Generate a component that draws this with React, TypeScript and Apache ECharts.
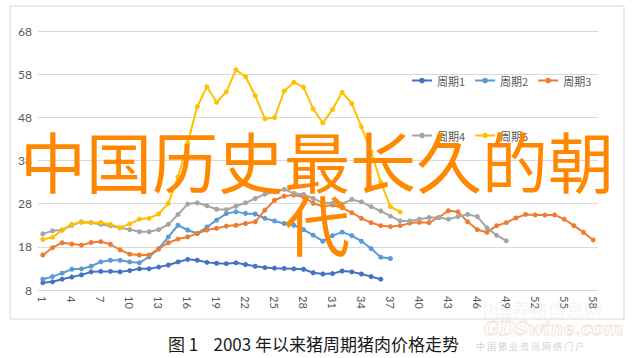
import React, { useEffect, useRef } from 'react';
import * as echarts from 'echarts';

const categories: string[] = Array.from({ length: 58 }, (_, i) => String(i + 1));
const yTicks = [8, 18, 28, 38, 48, 58, 68];
const seriesNames = ['周期1', '周期2', '周期3', '周期4', '周期5'];
const seriesColors = ['#4472C4', '#5B9BD5', '#ED7D31', '#A5A5A5', '#FFC000'];

const cycle1 = [9.7, 9.9, 10.5, 11.0, 11.5, 12.2, 12.3, 12.3, 12.2, 12.5, 12.9, 12.9, 13.3, 13.8, 14.5, 15.1, 14.9, 14.4, 14.2, 14.1, 14.3, 13.9, 13.5, 13.2, 13.05, 13.0, 12.9, 12.8, 12.0, 11.7, 11.8, 12.4, 12.2, 11.7, 11.1, 10.5];
const cycle2 = [10.5, 11.1, 11.9, 12.8, 12.9, 13.5, 14.5, 14.9, 14.9, 14.5, 14.3, 15.7, 17.5, 20.3, 23.0, 21.9, 21.1, 22.6, 24.2, 25.7, 26.1, 25.75, 25.6, 24.6, 24.0, 23.4, 23.0, 22.0, 20.7, 19.3, 20.6, 21.4, 20.6, 19.3, 17.6, 15.6, 15.3];
const cycle3 = [16.1, 17.8, 18.95, 18.65, 18.4, 19.0, 19.2, 18.6, 17.3, 16.3, 16.1, 16.1, 17.6, 18.95, 19.8, 20.3, 21.1, 21.9, 22.3, 22.8, 23.0, 23.4, 23.8, 26.5, 28.8, 29.75, 30.0, 29.6, 28.1, 27.4, 27.7, 27.05, 25.9, 24.6, 23.6, 22.9, 22.7, 22.9, 23.5, 23.7, 23.6, 24.8, 26.35, 26.1, 23.8, 22.0, 21.35, 22.9, 23.6, 24.7, 25.5, 25.4, 25.35, 25.4, 24.4, 22.9, 21.35, 19.6];
const cycle4 = [21.0, 21.7, 21.9, 23.0, 23.8, 23.6, 23.2, 22.9, 22.4, 22.0, 21.5, 21.5, 22.0, 23.2, 25.5, 27.9, 28.2, 27.5, 26.7, 26.6, 27.4, 28.2, 29.2, 30.2, 30.75, 31.3, 30.4, 30.15, 29.2, 28.2, 28.1, 27.9, 29.0, 28.4, 27.3, 26.3, 25.1, 24.0, 24.0, 24.4, 24.8, 24.8, 24.4, 25.0, 25.5, 25.0, 22.4, 20.7, 19.4];
const cycle5 = [19.7, 20.2, 21.9, 23.2, 23.65, 23.6, 23.65, 23.2, 22.5, 23.3, 24.4, 24.6, 25.6, 28.1, 34.2, 42.0, 50.5, 55.1, 51.5, 53.9, 59.0, 57.4, 53.0, 47.65, 47.95, 54.1, 56.1, 55.0, 49.95, 46.7, 49.8, 53.8, 51.2, 45.8, 40.0, 33.0, 27.3, 26.1];
const seriesData = [cycle1, cycle2, cycle3, cycle4, cycle5];

const overlayTitle = '中国历史最长久的朝代';
const caption = '图 1    2003 年以来猪周期猪肉价格走势';

export default function App() {
  const ref = useRef<HTMLDivElement>(null);
  useEffect(() => {
    if (!ref.current) return;
    const chart = echarts.init(ref.current, null, { renderer: 'svg' });
    const legendCommon = {
      itemWidth: 20,
      itemHeight: 7,
      itemGap: 9,
      textStyle: { fontSize: 11, color: '#595959', fontFamily: '"Noto Sans CJK SC", Lato, sans-serif' },
    };
    chart.setOption({
      animation: false,
      textStyle: { fontFamily: 'Lato, "Noto Sans CJK SC", sans-serif' },
      grid: { left: 38, right: 36, top: 31, bottom: 68, containLabel: false },
      legend: [
        { ...legendCommon, data: seriesNames.slice(0, 3), left: 406, top: 70 },
        { ...legendCommon, data: seriesNames.slice(3), left: 406, top: 125 },
      ],
      xAxis: {
        type: 'category',
        data: categories,
        boundaryGap: true,
        axisLine: { lineStyle: { color: '#D9D9D9' } },
        axisTick: { show: false },
        axisLabel: { interval: 2, rotate: -90, fontSize: 11, color: '#595959', margin: 6 },
      },
      yAxis: {
        type: 'value',
        min: 8,
        max: 68,
        axisLine: { show: false },
        axisTick: { show: false, customValues: yTicks },
        axisLabel: { customValues: yTicks, fontSize: 12, color: '#595959', margin: 6 },
        splitLine: { lineStyle: { color: '#D9D9D9', width: 1 } },
      },
      series: seriesNames.map((name, i) => ({
        name,
        type: 'line',
        data: seriesData[i],
        symbol: 'circle',
        symbolSize: 5,
        lineStyle: { width: 2, color: seriesColors[i] },
        itemStyle: { color: seriesColors[i] },
      })),
      graphic: [
        {
          type: 'rect',
          shape: { x: 10, y: 6, width: 614, height: 313 },
          style: { fill: 'none', stroke: '#D9D9D9', lineWidth: 1 },
          silent: true,
          z: 0,
        },
        {
          type: 'text',
          x: 317,
          y: 127,
          z: 100,
          style: {
            text: overlayTitle,
            width: 600,
            overflow: 'break',
            align: 'center',
            verticalAlign: 'top',
            fontSize: 66,
            lineHeight: 63,
            fontFamily: '"Noto Sans CJK SC", sans-serif',
            fill: '#FF8800',
          },
        },
        {
          type: 'text',
          x: 168,
          y: 343,
          z: 100,
          style: {
            text: caption,
            fontSize: 17,
            verticalAlign: 'middle',
            fontFamily: '"Noto Sans CJK SC", sans-serif',
            fill: '#1a1a1a',
          },
        },
        {
          type: 'text',
          x: 476,
          y: 309,
          z: 50,
          style: {
            text: '中国养猪信息网',
            fontSize: 18,
            verticalAlign: 'middle',
            fontFamily: '"Noto Sans CJK SC", sans-serif',
            fill: 'rgba(225,215,205,0.3)',
          },
        },
        {
          type: 'text',
          x: 484,
          y: 328,
          z: 50,
          style: {
            text: 'GDSwine.com',
            fontSize: 18,
            fontWeight: 'bold',
            fontStyle: 'italic',
            verticalAlign: 'middle',
            fontFamily: '"DejaVu Serif", serif',
            fill: 'rgba(255,255,255,0)',
            stroke: '#EFE6DE',
            lineWidth: 1,
          },
        },
        {
          type: 'text',
          x: 476,
          y: 346,
          z: 50,
          style: {
            text: '中 国 猪 业 资 讯 网 络 门 户',
            fontSize: 9,
            verticalAlign: 'middle',
            fontFamily: '"Noto Sans CJK SC", sans-serif',
            fill: '#D2D2D2',
          },
        },
      ],
    });
    return () => chart.dispose();
  }, []);
  return <div ref={ref} style={{ position: 'fixed', left: 0, top: 0, width: 634, height: 358, background: '#fff' }} />;
}
